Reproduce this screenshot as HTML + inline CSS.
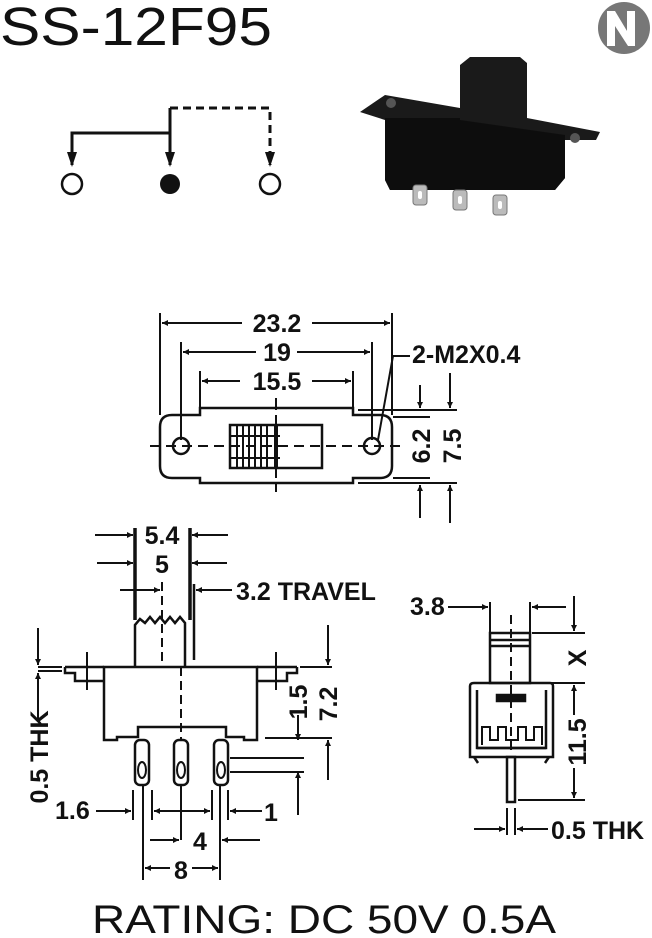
<!DOCTYPE html>
<html><head><style>
html,body{margin:0;padding:0;background:#fff;}
svg{display:block;}
text{font-family:"Liberation Sans",Arial,sans-serif;fill:#111;}
.d{font-size:25px;font-weight:bold;}
</style></head><body>
<svg width="652" height="938" viewBox="0 0 652 938" xmlns="http://www.w3.org/2000/svg">
<defs>
<marker id="a" viewBox="0 0 10 10" refX="10" refY="5" markerWidth="10" markerHeight="6" orient="auto-start-reverse" markerUnits="userSpaceOnUse"><path d="M0,0L10,5L0,10z" fill="#111"/></marker>
</defs>
<text x="0" y="45" font-size="54" textLength="272" lengthAdjust="spacingAndGlyphs">SS-12F95</text>
<circle cx="624" cy="28" r="26" fill="#777"/>
<path d="M607,46V11h8l12,20V11h8v35h-7l-13-20v20z" fill="#fff"/>

<g stroke="#111" stroke-width="3" fill="none">
<path d="M72,165V133H170"/>
<path d="M170,108V165"/>
<path d="M170,108H270V165" stroke-dasharray="8,5"/>
</g>
<g fill="#111">
<path d="M67,152L72,167L77,152z"/><path d="M165,152L170,167L175,152z"/><path d="M265,152L270,167L275,152z"/>
</g>
<circle cx="72" cy="184" r="10" fill="#fff" stroke="#111" stroke-width="2.5"/>
<circle cx="170" cy="184" r="10" fill="#111"/>
<circle cx="270" cy="184" r="10" fill="#fff" stroke="#111" stroke-width="2.5"/>

<path d="M360,112L385,95L460,108V65L470,57H520L527,63V118L600,132L596,140H565V178L555,190H390L385,180V120z" fill="#1a1a1a"/>
<path d="M385,118H460V120L565,135V178L555,190H390L385,180z" fill="#0d0d0d"/>
<circle cx="391" cy="103" r="5" fill="#555"/><circle cx="575" cy="138" r="5" fill="#555"/>
<g fill="#bbb" stroke="#777" stroke-width="1">
<rect x="413" y="185" width="14" height="20" rx="3"/><rect x="453" y="190" width="14" height="20" rx="3"/><rect x="493" y="195" width="14" height="20" rx="3"/>
</g>
<g fill="#fff"><rect x="418" y="191" width="4" height="8" rx="2"/><rect x="458" y="196" width="4" height="8" rx="2"/><rect x="498" y="201" width="4" height="8" rx="2"/></g>

<g stroke="#111" stroke-width="2.5" fill="none">
<path d="M200,415V408H353V415H380Q392,415 392,427V466Q392,478 380,478H353V483H200V478H172Q160,478 160,466V427Q160,415 172,415Z"/>
<circle cx="181" cy="446" r="8"/><circle cx="372" cy="446" r="8"/>
<rect x="230" y="425" width="92" height="43"/>
</g>
<g stroke="#111" stroke-width="2" fill="none">
<path d="M237,425V468M243,425V468M249,425V468M255,425V468M261,425V468M267,425V468"/>
<path d="M230,436H280M230,458H280"/>
<path d="M276,425V468" stroke-width="4"/>
<path d="M150,446H400" stroke-dasharray="10,6"/>
<path d="M276,398V492" stroke-dasharray="12,5"/>
<path d="M160,313V415M392,313V415M181,342V440M372,342V440M200,371V408M353,371V408"/>
<path d="M358,410H457M393,417H430M358,483H457M393,478H430"/>
<path d="M378,440L393,356H410"/>
</g>
<g stroke="#111" stroke-width="2" marker-end="url(#a)">
<path d="M242,323H162"/><path d="M312,323H390"/>
<path d="M256,352H183"/><path d="M297,352H370"/>
<path d="M240,381H202"/><path d="M312,381H351"/>
<path d="M420,385V408"/><path d="M450,373V408"/>
<path d="M420,518V485"/><path d="M450,523V485"/>
</g>
<text x="277" y="332" class="d" text-anchor="middle">23.2</text>
<text x="277" y="361" class="d" text-anchor="middle">19</text>
<text x="277" y="390" class="d" text-anchor="middle">15.5</text>
<text x="412" y="363" class="d" font-size="23">2-M2X0.4</text>
<text transform="translate(430,446) rotate(-90)" class="d" text-anchor="middle">6.2</text>
<text transform="translate(461,446) rotate(-90)" class="d" text-anchor="middle">7.5</text>

<g stroke="#111" stroke-width="2.5" fill="none">
<path d="M104,667V740H117V737H138V727H226V737H244V740H257V667Z"/>
<path d="M65,667H104M65,667V673H75V681H104"/>
<path d="M257,667H297M297,667V673H287V681H257"/>
<path d="M135,667V625L140,619L145,623L150,617L155,623L160,617L165,623L170,617L175,623L180,617L185,623V667"/>
<path d="M135,620V528M190,620V528" stroke-width="3.5"/>
<path d="M194,660V584"/>
<rect x="135" y="740" width="14" height="45" rx="5"/>
<rect x="174" y="740" width="14" height="45" rx="5"/>
<rect x="214" y="740" width="14" height="45" rx="5"/>
</g>
<g stroke="#111" stroke-width="2" fill="none">
<ellipse cx="142" cy="770" rx="4" ry="8"/><ellipse cx="181" cy="770" rx="4" ry="8"/><ellipse cx="221" cy="770" rx="4" ry="8"/>
<path d="M181,667V740" stroke-dasharray="9,5"/>
<path d="M162,582V667" stroke-dasharray="9,5"/>
<path d="M87,652V690M276,652V690"/>
<path d="M62,667H38M62,671H38"/>
<path d="M300,667H332M265,738H332M230,758H304M230,772H304"/>
<path d="M133,790V820M152,790V820M212,790V820M228,790V820"/>
<path d="M143,785V880M220,785V880M181,785V840"/>
</g>
<g stroke="#111" stroke-width="2" marker-end="url(#a)">
<path d="M95,535H133"/><path d="M228,535H192"/>
<path d="M97,563H133"/><path d="M227,563H192"/>
<path d="M120,590H160"/><path d="M232,590H196"/>
<path d="M38,628V665"/><path d="M38,720V673"/>
<path d="M328,625V665"/>
<path d="M298,715V740"/><path d="M298,815V772"/>
<path d="M328,780V740"/>
<path d="M96,811H131"/><path d="M181,811H154"/><path d="M181,811H210"/><path d="M262,811H230"/>
<path d="M150,840H179"/><path d="M260,840H222"/>
<path d="M170,868H145"/><path d="M192,868H218"/>
</g>
<text x="162" y="544" class="d" text-anchor="middle">5.4</text>
<text x="162" y="573" class="d" text-anchor="middle">5</text>
<text x="236" y="600" class="d">3.2 TRAVEL</text>
<text transform="translate(48,757) rotate(-90)" class="d" text-anchor="middle">0.5 THK</text>
<text transform="translate(307,702) rotate(-90)" class="d" text-anchor="middle">1.5</text>
<text transform="translate(337,704) rotate(-90)" class="d" text-anchor="middle">7.2</text>
<text x="55" y="819" class="d">1.6</text>
<text x="264" y="821" class="d">1</text>
<text x="200" y="850" class="d" text-anchor="middle">4</text>
<text x="181" y="879" class="d" text-anchor="middle">8</text>

<g stroke="#111" stroke-width="2.5" fill="none">
<rect x="490" y="633" width="40" height="50"/>
<path d="M490,640H530M490,646H530"/>
<path d="M474,683H550Q553,683 553,686V757H470V686Q470,683 474,683Z"/>
<path d="M477,690V748H546V690"/>
<path d="M477,748H546M474,757L478,763M549,757L545,763"/>
<path d="M482,745V727H490V740H498V727H506V740H518V727H526V740H534V727H542V745" stroke-width="2"/>
<rect x="497" y="695" width="28" height="6" fill="#111"/>
<rect x="507" y="757" width="8" height="45"/>
</g>
<g stroke="#111" stroke-width="2" fill="none">
<path d="M511,615V755" stroke-dasharray="9,5"/>
<path d="M490,602V633M530,602V633"/>
<path d="M532,633H585M530,683H585M518,800H585"/>
<path d="M507,808V835M515,808V835"/>
</g>
<g stroke="#111" stroke-width="2" marker-end="url(#a)">
<path d="M448,607H488"/><path d="M566,607H532"/>
<path d="M574,596V631"/>
<path d="M574,715V685"/><path d="M574,768V798"/>
<path d="M474,829H505"/><path d="M548,829H517"/>
</g>
<text x="410" y="615" class="d">3.8</text>
<text transform="translate(586,658) rotate(-90)" class="d" text-anchor="middle">X</text>
<text transform="translate(586,742) rotate(-90)" class="d" text-anchor="middle">11.5</text>
<text x="551" y="839" class="d" font-size="23">0.5 THK</text>

<text x="92" y="933" font-size="40" textLength="464" lengthAdjust="spacingAndGlyphs">RATING: DC 50V 0.5A</text>
</svg>
</body></html>
